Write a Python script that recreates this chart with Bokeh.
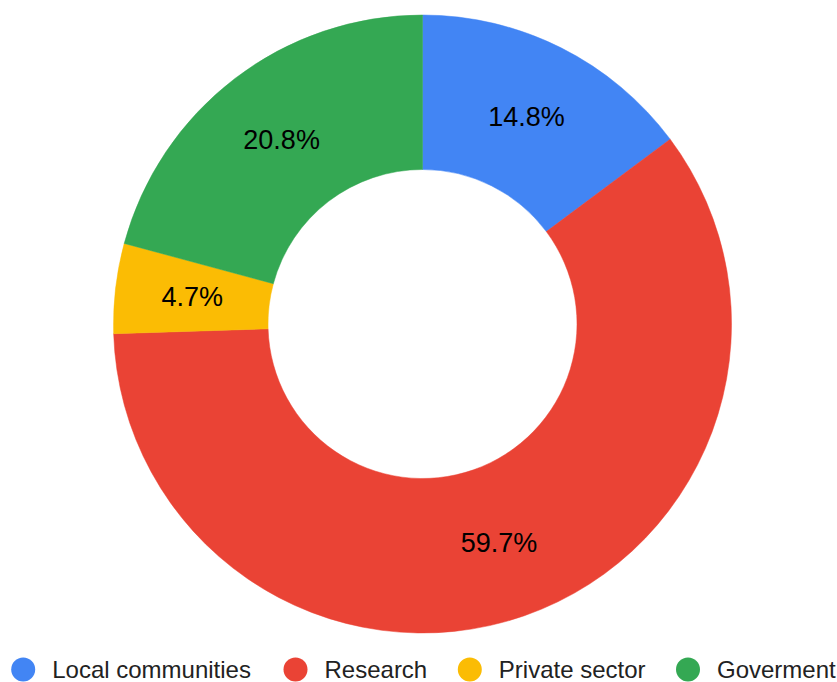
import math
from bokeh.plotting import figure
from bokeh.models import ColumnDataSource, Range1d
from bokeh.core.properties import value
from bokeh.embed import file_html
from bokeh.resources import INLINE

# ---- data ----
categories = ["Local communities", "Research", "Private sector", "Goverment"]
shares = [14.8, 59.7, 4.7, 20.8]
colors = ["#4285F4", "#EA4335", "#FBBC04", "#34A853"]

# ---- layout (screen px inside the figure, y measured from bottom) ----
W, H = 837, 682
CX, CY = 422.0, 358.5
R_OUT, R_IN = 309.0, 154.5
LEGEND_CIRCLE_X = [22.7, 295.0, 469.3, 687.5]
LEGEND_Y = 13.0
FONT = "Liberation Sans"

total = sum(shares)
starts, ends, lx, ly, labels = [], [], [], [], []
cum = 0.0
for s in shares:
    a0 = math.pi / 2 - 2 * math.pi * cum / total
    a1 = math.pi / 2 - 2 * math.pi * (cum + s) / total
    mid = (a0 + a1) / 2
    r = (R_OUT + R_IN) / 2
    starts.append(a0)
    ends.append(a1)
    lx.append(CX + r * math.cos(mid))
    ly.append(CY + r * math.sin(mid))
    labels.append(f"{s:.1f}%")
    cum += s

src = ColumnDataSource(dict(start=starts, end=ends, color=colors,
                            lx=lx, ly=ly, label=labels))

p = figure(width=W, height=H, output_backend="svg", toolbar_location=None,
           x_range=Range1d(0, W), y_range=Range1d(0, H),
           min_border=0, outline_line_color=None)
p.axis.visible = False
p.grid.visible = False
p.background_fill_color = "white"
p.border_fill_color = "white"

p.annular_wedge(x=CX, y=CY, inner_radius=R_IN, outer_radius=R_OUT,
                start_angle="start", end_angle="end", direction="clock",
                fill_color="color", line_color="color", line_width=0.5,
                source=src)

p.text(x="lx", y="ly", text="label", source=src,
       text_font=value(FONT), text_font_size="27px", text_color="#000000",
       text_align="center", text_baseline="middle")

# ---- legend ----
leg = ColumnDataSource(dict(x=LEGEND_CIRCLE_X, tx=[x + 29 for x in LEGEND_CIRCLE_X],
                            y=[LEGEND_Y] * 4, color=colors, name=categories))
p.scatter(x="x", y="y", size=24, marker="circle", fill_color="color",
          line_color=None, source=leg)
p.text(x="tx", y="y", text="name", source=leg,
       text_font=value(FONT), text_font_size="24px", text_color="#222222",
       text_align="left", text_baseline="middle")

open("out.html", "w").write(file_html(p, INLINE))
